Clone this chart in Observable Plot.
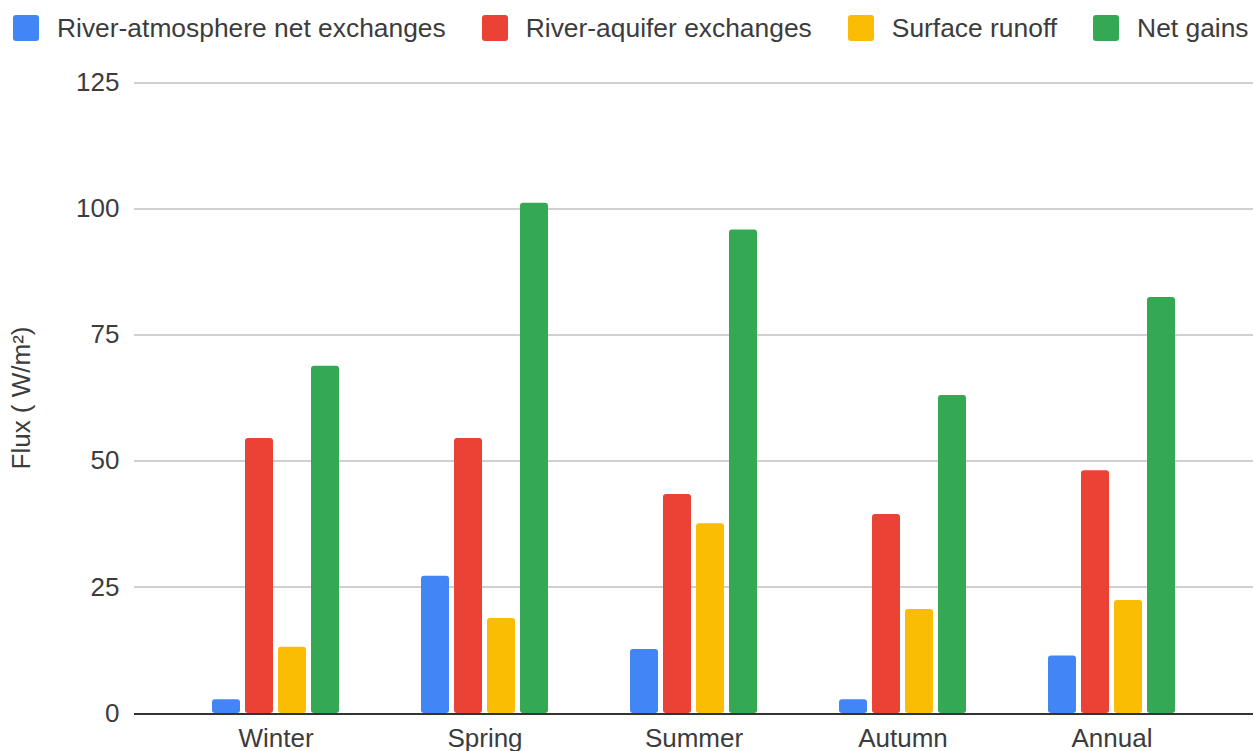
<!DOCTYPE html>
<html>
<head>
<meta charset="utf-8">
<script src="https://cdn.jsdelivr.net/npm/d3@7"></script>
<script src="https://cdn.jsdelivr.net/npm/@observablehq/plot@0.6"></script>
<style>
  html, body { margin: 0; padding: 0; background: #fff; }
  body { width: 1254px; height: 751px; overflow: hidden; font-family: "Liberation Sans", Arial, sans-serif; }
  #legend { height: 60px; display: flex; align-items: center; padding-left: 13px; padding-bottom: 4px; box-sizing: border-box; font-size: 26.4px; color: #3c3c3c; white-space: nowrap; }
  .item { display: flex; align-items: center; margin-right: 36px; }
  .sw { width: 26px; height: 26px; border-radius: 3px; margin-right: 18px; }
  #chart svg { display: block; overflow: visible; }
</style>
</head>
<body>
<div id="legend"></div>
<div id="chart"></div>
<script>
const seasons = ["Winter", "Spring", "Summer", "Autumn", "Annual"];
const seriesNames = ["River-atmosphere net exchanges", "River-aquifer exchanges", "Surface runoff", "Net gains"];
const seriesColors = ["#4285F4", "#EA4335", "#FBBC04", "#34A853"];
const riverAtmosphere = [2.7, 27.2, 12.7, 2.7, 11.4];
const riverAquifer = [54.5, 54.5, 43.4, 39.4, 48.1];
const surfaceRunoff = [13.1, 18.8, 37.6, 20.6, 22.4];
const netGains = [68.8, 101.1, 95.8, 63.0, 82.4];
const yTicks = [0, 25, 50, 75, 100, 125];
const yLabel = "Flux ( W/m²)";

const seriesValues = [riverAtmosphere, riverAquifer, surfaceRunoff, netGains];
const data = [];
seasons.forEach((s, i) => {
  seriesNames.forEach((n, j) => data.push({season: s, series: n, value: seriesValues[j][i]}));
});

// legend
const legend = document.getElementById("legend");
seriesNames.forEach((n, j) => {
  const it = document.createElement("div");
  it.className = "item";
  const sw = document.createElement("div");
  sw.className = "sw";
  sw.style.background = seriesColors[j];
  const t = document.createElement("span");
  t.textContent = n;
  it.appendChild(sw); it.appendChild(t);
  legend.appendChild(it);
});

const chart = Plot.plot({
  width: 1254,
  height: 691,
  marginLeft: 170,
  marginRight: 37,
  marginTop: 22,
  marginBottom: 38,
  style: {fontSize: "26px", fontFamily: "'Liberation Sans', Arial, sans-serif", color: "#3c3c3c", background: "#fff", overflow: "visible"},
  fx: {domain: seasons, padding: 0},
  x: {domain: seriesNames, paddingInner: 0.15, paddingOuter: 1.24, axis: null},
  y: {domain: [0, 125], ticks: yTicks},
  color: {domain: seriesNames, range: seriesColors},
  marks: [
    Plot.ruleY(yTicks.filter(d => d > 0), {stroke: "#d0d0d0", strokeWidth: 2, shapeRendering: "crispEdges", insetLeft: -37, insetRight: -37}),
    Plot.barY(data, {fx: "season", x: "series", y: "value", fill: "series", rx: 3}),
    Plot.ruleY([0], {stroke: "#333", strokeWidth: 2, shapeRendering: "crispEdges", insetLeft: -37, insetRight: -37}),
    Plot.axisY(yTicks, {tickSize: 0, tickPadding: 52, label: yLabel, labelAnchor: "center", labelArrow: "none", labelOffset: 160, fill: "#3c3c3c"}),
    Plot.axisFx({anchor: "bottom", tickSize: 0, tickPadding: 15, label: null, fill: "#3c3c3c"})
  ]
});
document.getElementById("chart").appendChild(chart);
</script>
</body>
</html>
